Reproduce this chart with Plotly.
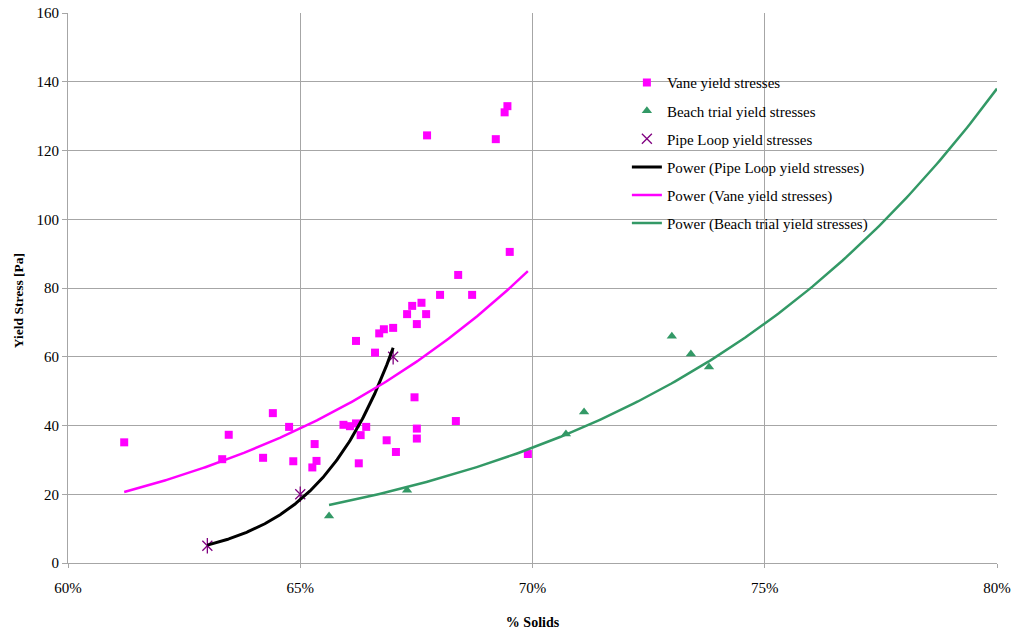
import numpy as np
import plotly.graph_objects as go

# ---- data (x in % solids, y in Pa) ----
vane_x = [61.21, 63.32, 63.46, 64.20, 64.41, 64.76, 64.85, 65.26, 65.31, 65.35,
          65.93, 66.07, 66.20, 66.42, 66.30, 66.26, 66.20, 66.61, 66.70, 66.80,
          67.00, 66.86, 67.06, 67.30, 67.41, 67.61, 67.71, 67.51, 67.46, 67.51,
          67.51, 68.01, 68.40, 68.70, 68.35, 69.51, 67.73, 69.21, 69.40, 69.46, 69.90]
vane_y = [35.1, 30.2, 37.3, 30.6, 43.6, 39.6, 29.6, 27.8, 34.6, 29.7,
          40.2, 39.8, 40.6, 39.6, 37.2, 29.0, 64.6, 61.2, 66.8, 68.0,
          68.4, 35.7, 32.3, 72.4, 74.8, 75.7, 72.4, 69.5, 48.2, 39.1,
          36.2, 78.0, 83.8, 78.0, 41.3, 90.5, 124.4, 123.3, 131.1, 132.9, 31.7]

beach_x = [65.62, 67.30, 70.72, 71.11, 73.00, 73.41, 73.80]
beach_y = [13.7, 21.2, 37.5, 43.9, 66.0, 60.8, 57.0]

pipe_x = [63.0, 65.0, 67.0]
pipe_y = [5.0, 20.0, 60.0]

# power trendlines y = y_ref * (x / x_ref) ** b, coefficients
pipe_trend = dict(x0=63.0, x1=67.0, x_ref=67.0, y_ref=62.6, b=40.4)
vane_trend = dict(x0=61.21, x1=69.90, x_ref=69.9, y_ref=84.9, b=10.65)
beach_trend = dict(x0=65.62, x1=80.0, x_ref=80.0, y_ref=138.0, b=10.6)

x_ticks = [60, 65, 70, 75, 80]
x_tick_labels = ["60%", "65%", "70%", "75%", "80%"]
y_ticks = [0, 20, 40, 60, 80, 100, 120, 140, 160]

MAGENTA = "#FF00FF"
GREEN = "#339966"
PURPLE = "#800080"
FONT = "Liberation Serif"


def power_curve(p, n=200):
    xs = np.linspace(p["x0"], p["x1"], n)
    ys = p["y_ref"] * (xs / p["x_ref"]) ** p["b"]
    return xs, ys


fig = go.Figure()

fig.add_trace(go.Scatter(x=vane_x, y=vane_y, mode="markers", name="Vane yield stresses",
                         marker=dict(symbol="square", size=8, color=MAGENTA),
                         legendgroup="g1", legendrank=1))
fig.add_trace(go.Scatter(x=beach_x, y=beach_y, mode="markers", name="Beach trial yield stresses",
                         marker=dict(symbol="triangle-up", size=9, color=GREEN),
                         legendgroup="g2", legendrank=2))
fig.add_trace(go.Scatter(x=pipe_x, y=pipe_y, mode="markers", name="Pipe Loop yield stresses",
                         marker=dict(symbol="x-thin-open", size=10, color=PURPLE,
                                     line=dict(width=1.3, color=PURPLE)),
                         legendgroup="g3", legendrank=3))
fig.add_trace(go.Scatter(x=pipe_x, y=pipe_y, mode="markers", showlegend=False,
                         marker=dict(symbol="line-ns-open", size=11, color=PURPLE,
                                     line=dict(width=1.3, color=PURPLE)),
                         legendgroup="g3", hoverinfo="skip"))

px_, py_ = power_curve(pipe_trend)
fig.add_trace(go.Scatter(x=px_, y=py_, mode="lines", name="Power (Pipe Loop yield stresses)",
                         line=dict(color="black", width=3), legendgroup="g4", legendrank=4))
vx, vy = power_curve(vane_trend)
fig.add_trace(go.Scatter(x=vx, y=vy, mode="lines", name="Power (Vane yield stresses)",
                         line=dict(color=MAGENTA, width=2.5), legendgroup="g5", legendrank=5))
bx, by = power_curve(beach_trend)
fig.add_trace(go.Scatter(x=bx, y=by, mode="lines", name="Power (Beach trial yield stresses)",
                         line=dict(color=GREEN, width=2.5), legendgroup="g6", legendrank=6))

# white legend background box that hides the grid lines behind it
fig.add_shape(type="rect", xref="paper", yref="paper", x0=0.569, x1=0.874, y0=0.593, y1=0.898,
              fillcolor="white", line=dict(width=0), layer="below")

# y-axis title (placed as annotation to match its vertical position)
fig.add_annotation(text="<b>Yield Stress [Pa]</b>", xref="paper", yref="paper",
                   x=-0.0538, y=0.476, xanchor="center", yanchor="middle",
                   textangle=-90, showarrow=False, font=dict(family=FONT, size=13.5))

fig.update_layout(
    width=1013, height=631,
    margin=dict(l=68, r=16, t=13, b=68, autoexpand=False),
    paper_bgcolor="white", plot_bgcolor="white",
    font=dict(family=FONT, size=14, color="black"),
    showlegend=True,
    legend=dict(x=0.6016, y=0.903, xanchor="left", yanchor="top",
                bgcolor="rgba(0,0,0,0)", borderwidth=0,
                font=dict(family=FONT, size=15),
                traceorder="grouped", tracegroupgap=5.6, itemwidth=30),
    xaxis=dict(range=[60, 80], tickvals=x_ticks, ticktext=x_tick_labels,
               showgrid=True, gridcolor="#a6a6a6", gridwidth=1,
               showline=True, linecolor="#a6a6a6", linewidth=1,
               ticks="outside", ticklen=4, tickcolor="#a6a6a6", ticklabelstandoff=7,
               zeroline=False, automargin=False, tickfont=dict(family=FONT, size=15),
               title=dict(text="<b>% Solids</b>", font=dict(family=FONT, size=14), standoff=22)),
    yaxis=dict(range=[0, 160], tickvals=y_ticks,
               showgrid=True, gridcolor="#a6a6a6", gridwidth=1,
               showline=True, linecolor="#a6a6a6", linewidth=1,
               ticks="outside", ticklen=5, tickcolor="#a6a6a6",
               zeroline=False, automargin=False, tickfont=dict(family=FONT, size=15)),
)

fig.write_html("out.html")
